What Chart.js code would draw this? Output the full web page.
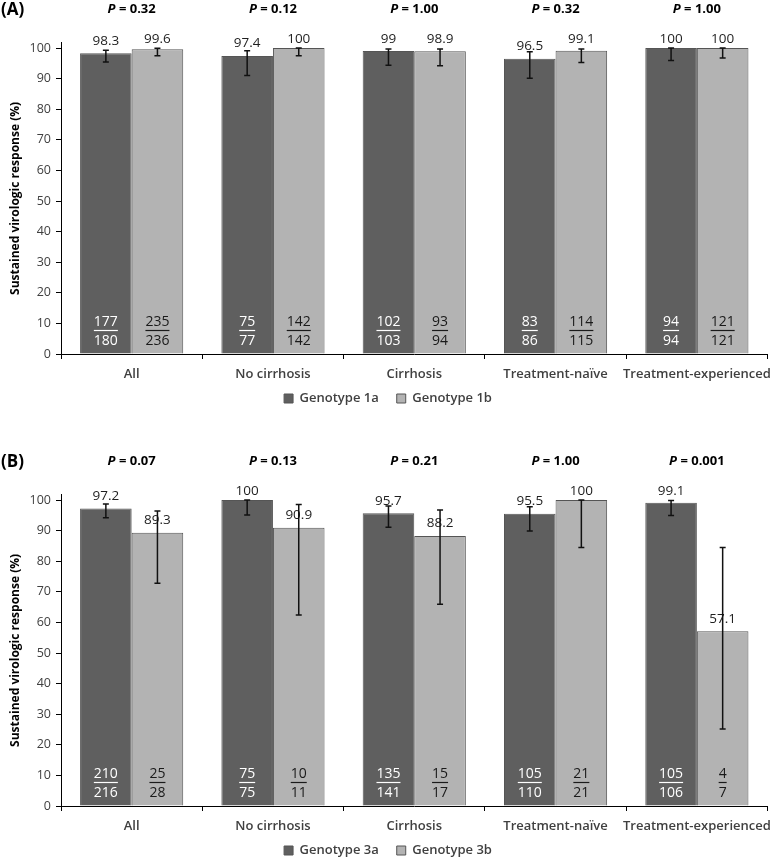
<!DOCTYPE html>
<html><head><meta charset="utf-8">
<script src="https://cdn.jsdelivr.net/npm/chart.js@4.4.1/dist/chart.umd.min.js"></script>
<style>
html,body{margin:0;padding:0;background:#fff;overflow:hidden;width:778px;height:858px;}
#wrap{position:relative;width:778px;height:858px;overflow:hidden;background:#fff;}
canvas{position:absolute;left:0;}
</style></head><body>
<div id="wrap">
<canvas id="chartA" width="778" height="415" style="top:0px"></canvas>
<canvas id="chartB" width="778" height="447" style="top:420px"></canvas>
</div>
<script>
// ---------- DATA ----------
const categories = ['All', 'No cirrhosis', 'Cirrhosis', 'Treatment-naïve', 'Treatment-experienced'];

// Panel A
const pValuesA = ['0.32', '0.12', '1.00', '0.32', '1.00'];
const g1aValues = [98.3, 97.4, 99, 96.5, 100];
const g1aLow = [95.4, 91.0, 94.4, 90.1, 95.9];
const g1aHigh = [99.3, 99.1, 99.7, 98.8, 100];
const g1aResponders = [177, 75, 102, 83, 94];
const g1aTotals = [180, 77, 103, 86, 94];
const g1bValues = [99.6, 100, 98.9, 99.1, 100];
const g1bLow = [97.5, 97.5, 94.2, 95.3, 96.7];
const g1bHigh = [99.9, 100, 99.7, 99.7, 100];
const g1bResponders = [235, 142, 93, 114, 121];
const g1bTotals = [236, 142, 94, 115, 121];

// Panel B
const pValuesB = ['0.07', '0.13', '0.21', '1.00', '0.001'];
const g3aValues = [97.2, 100, 95.7, 95.5, 99.1];
const g3aLow = [94.2, 95.1, 91.1, 89.9, 94.9];
const g3aHigh = [98.7, 100, 98.0, 97.8, 99.8];
const g3aResponders = [210, 75, 135, 105, 105];
const g3aTotals = [216, 75, 141, 110, 106];
const g3bValues = [89.3, 90.9, 88.2, 100, 57.1];
const g3bLow = [72.8, 62.4, 65.9, 84.5, 25.2];
const g3bHigh = [96.4, 98.5, 96.7, 100, 84.5];
const g3bResponders = [25, 10, 15, 21, 4];
const g3bTotals = [28, 11, 17, 21, 7];

const yTicksMax = 100;
// ---------- STYLE ----------
const FONT = '"Open Sans", "Liberation Sans", sans-serif';
const DARK = '#5f5f5f';
const LIGHT = '#b3b3b3';

const annotatePlugin = {
  id: 'annotate',
  afterLayout(chart) {
    // let x-axis labels extend below the (short) axis box without being clipped
    const s = chart.scales.x;
    s.bottom = s.top + 38;
  },
  afterDatasetsDraw(chart, args, opts) {
    const ctx = chart.ctx;
    const ys = chart.scales.y, xs = chart.scales.x;
    const area = chart.chartArea;
    ctx.save();
    ctx.textAlign = 'center';
    ctx.textBaseline = 'middle';
    // value labels + counts
    chart.data.datasets.forEach((ds, di) => {
      const meta = chart.getDatasetMeta(di);
      meta.data.forEach((bar, i) => {
        const cx = bar.x;
        const topPx = ys.getPixelForValue(ds.data[i]);
        const ly = Math.max(topPx - 12.5, ys.getPixelForValue(yTicksMax) - 9);
        ctx.font = '13.5px ' + FONT;
        ctx.fillStyle = '#1f1f1f';
        ctx.fillText(String(ds.data[i]), cx, ly);
        // counts
        ctx.font = '14px ' + FONT;
        ctx.fillStyle = di === 0 ? '#ffffff' : '#1a1a1a';
        const nY = area.bottom - 31.5, dY = area.bottom - 12.5;
        const num = String(ds.responders[i]);
        ctx.fillText(num, cx, nY);
        const w = ctx.measureText(num).width;
        ctx.strokeStyle = ctx.fillStyle;
        ctx.lineWidth = 1.2;
        ctx.beginPath();
        ctx.moveTo(cx - w / 2, nY + 8);
        ctx.lineTo(cx + w / 2, nY + 8);
        ctx.stroke();
        ctx.fillText(String(ds.totals[i]), cx, dY);
      });
    });
    // error bars
    ctx.strokeStyle = '#111';
    ctx.lineWidth = 1.5;
    chart.data.datasets.forEach((ds, di) => {
      const meta = chart.getDatasetMeta(di);
      meta.data.forEach((bar, i) => {
        const cx = bar.x;
        const yl = ys.getPixelForValue(ds.errLow[i]);
        const yh = ys.getPixelForValue(ds.errHigh[i]);
        ctx.beginPath();
        ctx.moveTo(cx, yl); ctx.lineTo(cx, yh);
        ctx.moveTo(cx - 3, yl); ctx.lineTo(cx + 3, yl);
        ctx.moveTo(cx - 3, yh); ctx.lineTo(cx + 3, yh);
        ctx.stroke();
      });
    });
    // P values
    const py = area.top + opts.pOffset;
    ctx.fillStyle = '#000';
    opts.pValues.forEach((p, i) => {
      const cx = xs.getPixelForValue(i);
      ctx.font = 'italic bold 13px ' + FONT;
      const w1 = ctx.measureText('P').width;
      ctx.font = 'bold 13px ' + FONT;
      const rest = ' = ' + p;
      const w2 = ctx.measureText(rest).width;
      const x0 = cx - (w1 + w2) / 2;
      ctx.textAlign = 'left';
      ctx.font = 'italic bold 13px ' + FONT;
      ctx.fillText('P', x0, py);
      ctx.font = 'bold 13px ' + FONT;
      ctx.fillText(rest, x0 + w1, py);
    });
    // panel letter
    ctx.textAlign = 'left';
    ctx.font = 'bold 17px ' + FONT;
    ctx.fillText(opts.letter, 1, py + 1);
    ctx.restore();
  }
};

function makeChart(id, cfg) {
  return new Chart(document.getElementById(id), {
    type: 'bar',
    data: {
      labels: categories,
      datasets: [
        { label: cfg.names[0], data: cfg.v[0], errLow: cfg.lo[0], errHigh: cfg.hi[0],
          responders: cfg.r[0], totals: cfg.t[0],
          backgroundColor: DARK, borderColor: '#555555', borderWidth: 1,
          categoryPercentage: 0.73, barPercentage: 1.0 },
        { label: cfg.names[1], data: cfg.v[1], errLow: cfg.lo[1], errHigh: cfg.hi[1],
          responders: cfg.r[1], totals: cfg.t[1],
          backgroundColor: LIGHT, borderColor: '#555555', borderWidth: 1,
          categoryPercentage: 0.73, barPercentage: 1.0 }
      ]
    },
    options: {
      responsive: false,
      animation: false,
      devicePixelRatio: 1,
      layout: { padding: { top: cfg.padTop, left: 0, right: 2, bottom: 0 } },
      plugins: {
        legend: {
          position: 'bottom',
          labels: {
            boxWidth: 9, boxHeight: 9, padding: 18,
            color: '#404040',
            font: { family: FONT, size: 13, weight: '600' }
          }
        },
        tooltip: { enabled: false },
        annotate: { pValues: cfg.p, letter: cfg.letter, pOffset: -33.5 }
      },
      scales: {
        x: {
          offset: true,
          grid: { display: true, offset: true, drawOnChartArea: false, drawTicks: true, tickLength: 5, color: '#000' },
          border: { display: true, color: '#000', width: 1 },
          ticks: { color: '#404040', padding: 7, maxRotation: 0, minRotation: 0, autoSkip: false,
                   font: { family: FONT, size: 13, weight: '600' } },
          afterFit: (s) => { s.height = 20; }
        },
        y: {
          min: 0, max: 101.7,
          grid: { display: true, drawOnChartArea: false, drawTicks: true, tickLength: 5, color: '#000' },
          border: { display: true, color: '#000', width: 1 },
          ticks: { stepSize: 10, includeBounds: false, color: '#404040', padding: 5,
                   font: { family: FONT, size: 12.5 } },
          title: { display: true, text: 'Sustained virologic response (%)', color: '#000',
                   padding: { top: 8, bottom: 0 }, font: { family: FONT, size: 12, weight: 'bold' } },
          afterFit: (s) => { s.width = 61; }
        }
      }
    },
    plugins: [annotatePlugin]
  });
}

makeChart('chartA', {
  names: ['Genotype 1a', 'Genotype 1b'],
  v: [g1aValues, g1bValues], lo: [g1aLow, g1bLow], hi: [g1aHigh, g1bHigh],
  r: [g1aResponders, g1bResponders], t: [g1aTotals, g1bTotals],
  p: pValuesA, letter: '(A)', padTop: 42.8
});
makeChart('chartB', {
  names: ['Genotype 3a', 'Genotype 3b'],
  v: [g3aValues, g3bValues], lo: [g3aLow, g3bLow], hi: [g3aHigh, g3bHigh],
  r: [g3aResponders, g3bResponders], t: [g3aTotals, g3bTotals],
  p: pValuesB, letter: '(B)', padTop: 74.8
});
</script>
</body></html>
